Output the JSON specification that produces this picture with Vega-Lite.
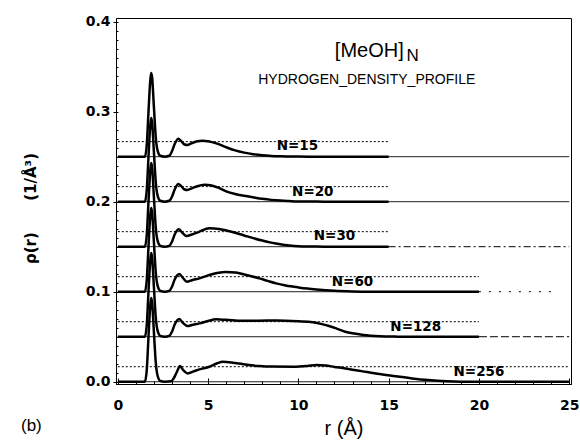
{
  "$schema": "https://vega.github.io/schema/vega-lite/v6.json",
  "width": 455,
  "height": 366,
  "autosize": "none",
  "padding": {"left": 116, "top": 18, "right": 9, "bottom": 58},
  "background": "white",
  "title": {"text": "(b)", "orient": "bottom", "anchor": "start", "frame": "group", "dx": -95, "dy": -24, "fontSize": 17, "fontWeight": "normal", "font": "Liberation Sans", "color": "black"},
  "datasets": {
    "curves": [
      {"N":"15","r":0,"v":0.25},{"N":"15","r":1.5,"v":0.25},{"N":"15","r":1.6,"v":0.262},{"N":"15","r":1.7,"v":0.30},{"N":"15","r":1.8,"v":0.335},{"N":"15","r":1.85,"v":0.343},{"N":"15","r":1.9,"v":0.338},{"N":"15","r":2.0,"v":0.305},{"N":"15","r":2.1,"v":0.272},{"N":"15","r":2.2,"v":0.257},{"N":"15","r":2.35,"v":0.251},{"N":"15","r":2.6,"v":0.25},{"N":"15","r":2.85,"v":0.251},{"N":"15","r":3.0,"v":0.256},{"N":"15","r":3.15,"v":0.264},{"N":"15","r":3.35,"v":0.27},{"N":"15","r":3.5,"v":0.2675},{"N":"15","r":3.7,"v":0.2635},{"N":"15","r":3.85,"v":0.263},{"N":"15","r":4.1,"v":0.265},{"N":"15","r":4.4,"v":0.2672},{"N":"15","r":4.7,"v":0.2678},{"N":"15","r":5.0,"v":0.2672},{"N":"15","r":5.5,"v":0.2645},{"N":"15","r":6.0,"v":0.2605},{"N":"15","r":6.5,"v":0.257},{"N":"15","r":7.0,"v":0.2545},{"N":"15","r":7.5,"v":0.2527},{"N":"15","r":8.0,"v":0.2515},{"N":"15","r":8.5,"v":0.2508},{"N":"15","r":9.0,"v":0.2504},{"N":"15","r":10,"v":0.2501},{"N":"15","r":11,"v":0.25},{"N":"15","r":15,"v":0.25},
      {"N":"20","r":0,"v":0.2},{"N":"20","r":1.5,"v":0.2},{"N":"20","r":1.6,"v":0.212},{"N":"20","r":1.7,"v":0.25},{"N":"20","r":1.8,"v":0.285},{"N":"20","r":1.85,"v":0.293},{"N":"20","r":1.9,"v":0.288},{"N":"20","r":2.0,"v":0.255},{"N":"20","r":2.1,"v":0.222},{"N":"20","r":2.2,"v":0.207},{"N":"20","r":2.35,"v":0.201},{"N":"20","r":2.6,"v":0.2},{"N":"20","r":2.85,"v":0.201},{"N":"20","r":3.0,"v":0.2055},{"N":"20","r":3.15,"v":0.2135},{"N":"20","r":3.35,"v":0.2197},{"N":"20","r":3.5,"v":0.2175},{"N":"20","r":3.7,"v":0.2135},{"N":"20","r":3.85,"v":0.213},{"N":"20","r":4.1,"v":0.2148},{"N":"20","r":4.4,"v":0.2172},{"N":"20","r":4.8,"v":0.2189},{"N":"20","r":5.2,"v":0.218},{"N":"20","r":5.6,"v":0.2153},{"N":"20","r":6.0,"v":0.2115},{"N":"20","r":6.5,"v":0.2085},{"N":"20","r":7.0,"v":0.2065},{"N":"20","r":7.5,"v":0.2048},{"N":"20","r":8.0,"v":0.2032},{"N":"20","r":8.5,"v":0.202},{"N":"20","r":9.0,"v":0.2012},{"N":"20","r":9.5,"v":0.2007},{"N":"20","r":10,"v":0.2003},{"N":"20","r":11,"v":0.2001},{"N":"20","r":12,"v":0.2},{"N":"20","r":15,"v":0.2},
      {"N":"30","r":0,"v":0.15},{"N":"30","r":1.5,"v":0.15},{"N":"30","r":1.6,"v":0.162},{"N":"30","r":1.7,"v":0.20},{"N":"30","r":1.8,"v":0.235},{"N":"30","r":1.85,"v":0.243},{"N":"30","r":1.9,"v":0.238},{"N":"30","r":2.0,"v":0.205},{"N":"30","r":2.1,"v":0.172},{"N":"30","r":2.2,"v":0.157},{"N":"30","r":2.35,"v":0.151},{"N":"30","r":2.6,"v":0.15},{"N":"30","r":2.85,"v":0.151},{"N":"30","r":3.0,"v":0.1555},{"N":"30","r":3.15,"v":0.1635},{"N":"30","r":3.38,"v":0.1693},{"N":"30","r":3.55,"v":0.166},{"N":"30","r":3.8,"v":0.1619},{"N":"30","r":4.1,"v":0.1635},{"N":"30","r":4.5,"v":0.1665},{"N":"30","r":5.07,"v":0.1704},{"N":"30","r":5.6,"v":0.1696},{"N":"30","r":6.0,"v":0.168},{"N":"30","r":6.5,"v":0.1655},{"N":"30","r":7.0,"v":0.1625},{"N":"30","r":7.5,"v":0.1595},{"N":"30","r":8.0,"v":0.1568},{"N":"30","r":8.5,"v":0.1545},{"N":"30","r":9.0,"v":0.1527},{"N":"30","r":9.5,"v":0.1514},{"N":"30","r":10,"v":0.1506},{"N":"30","r":11,"v":0.1501},{"N":"30","r":12,"v":0.15},{"N":"30","r":15,"v":0.15},
      {"N":"60","r":0,"v":0.1},{"N":"60","r":1.5,"v":0.1},{"N":"60","r":1.6,"v":0.112},{"N":"60","r":1.7,"v":0.15},{"N":"60","r":1.8,"v":0.185},{"N":"60","r":1.85,"v":0.193},{"N":"60","r":1.9,"v":0.188},{"N":"60","r":2.0,"v":0.155},{"N":"60","r":2.1,"v":0.122},{"N":"60","r":2.2,"v":0.107},{"N":"60","r":2.35,"v":0.101},{"N":"60","r":2.6,"v":0.1},{"N":"60","r":2.85,"v":0.101},{"N":"60","r":3.0,"v":0.1055},{"N":"60","r":3.15,"v":0.1135},{"N":"60","r":3.41,"v":0.1197},{"N":"60","r":3.6,"v":0.1155},{"N":"60","r":3.82,"v":0.1111},{"N":"60","r":4.1,"v":0.1128},{"N":"60","r":4.52,"v":0.1148},{"N":"60","r":5.07,"v":0.1185},{"N":"60","r":5.5,"v":0.1207},{"N":"60","r":6.0,"v":0.1219},{"N":"60","r":6.5,"v":0.1214},{"N":"60","r":6.9,"v":0.1197},{"N":"60","r":7.4,"v":0.1172},{"N":"60","r":7.84,"v":0.1148},{"N":"60","r":8.3,"v":0.112},{"N":"60","r":8.77,"v":0.1093},{"N":"60","r":9.3,"v":0.107},{"N":"60","r":10,"v":0.1048},{"N":"60","r":10.5,"v":0.1035},{"N":"60","r":11,"v":0.1025},{"N":"60","r":12,"v":0.101},{"N":"60","r":13,"v":0.1003},{"N":"60","r":14,"v":0.1},{"N":"60","r":20,"v":0.1},
      {"N":"128","r":0,"v":0.05},{"N":"128","r":1.5,"v":0.05},{"N":"128","r":1.6,"v":0.062},{"N":"128","r":1.7,"v":0.10},{"N":"128","r":1.8,"v":0.135},{"N":"128","r":1.85,"v":0.143},{"N":"128","r":1.9,"v":0.138},{"N":"128","r":2.0,"v":0.105},{"N":"128","r":2.1,"v":0.072},{"N":"128","r":2.2,"v":0.057},{"N":"128","r":2.35,"v":0.051},{"N":"128","r":2.6,"v":0.05},{"N":"128","r":2.85,"v":0.051},{"N":"128","r":3.0,"v":0.0555},{"N":"128","r":3.15,"v":0.0635},{"N":"128","r":3.41,"v":0.0697},{"N":"128","r":3.6,"v":0.0655},{"N":"128","r":3.87,"v":0.0619},{"N":"128","r":4.1,"v":0.063},{"N":"128","r":4.52,"v":0.0648},{"N":"128","r":5.0,"v":0.0675},{"N":"128","r":5.44,"v":0.0693},{"N":"128","r":6.0,"v":0.0688},{"N":"128","r":6.9,"v":0.0678},{"N":"128","r":7.8,"v":0.0678},{"N":"128","r":8.8,"v":0.068},{"N":"128","r":10,"v":0.0672},{"N":"128","r":10.8,"v":0.0662},{"N":"128","r":11.3,"v":0.064},{"N":"128","r":11.7,"v":0.0619},{"N":"128","r":12.2,"v":0.0585},{"N":"128","r":12.6,"v":0.0556},{"N":"128","r":13.1,"v":0.0535},{"N":"128","r":13.6,"v":0.0519},{"N":"128","r":14,"v":0.0511},{"N":"128","r":14.5,"v":0.0505},{"N":"128","r":15.5,"v":0.0501},{"N":"128","r":16,"v":0.05},{"N":"128","r":20,"v":0.05},
      {"N":"256","r":0,"v":0},{"N":"256","r":1.5,"v":0},{"N":"256","r":1.6,"v":0.012},{"N":"256","r":1.7,"v":0.05},{"N":"256","r":1.8,"v":0.085},{"N":"256","r":1.85,"v":0.093},{"N":"256","r":1.9,"v":0.088},{"N":"256","r":2.0,"v":0.055},{"N":"256","r":2.1,"v":0.022},{"N":"256","r":2.2,"v":0.007},{"N":"256","r":2.35,"v":0.001},{"N":"256","r":2.6,"v":0},{"N":"256","r":2.95,"v":0.0005},{"N":"256","r":3.1,"v":0.004},{"N":"256","r":3.25,"v":0.010},{"N":"256","r":3.45,"v":0.0174},{"N":"256","r":3.6,"v":0.0135},{"N":"256","r":3.87,"v":0.0093},{"N":"256","r":4.2,"v":0.0115},{"N":"256","r":4.52,"v":0.0138},{"N":"256","r":5.07,"v":0.0167},{"N":"256","r":5.5,"v":0.0205},{"N":"256","r":5.81,"v":0.0222},{"N":"256","r":6.3,"v":0.0215},{"N":"256","r":6.9,"v":0.0197},{"N":"256","r":7.4,"v":0.0182},{"N":"256","r":7.84,"v":0.0174},{"N":"256","r":8.5,"v":0.0168},{"N":"256","r":9.7,"v":0.0167},{"N":"256","r":10.5,"v":0.0175},{"N":"256","r":11,"v":0.0185},{"N":"256","r":11.5,"v":0.018},{"N":"256","r":12,"v":0.0165},{"N":"256","r":12.6,"v":0.0148},{"N":"256","r":13.5,"v":0.0118},{"N":"256","r":14.5,"v":0.0085},{"N":"256","r":15.4,"v":0.006},{"N":"256","r":16.3,"v":0.0037},{"N":"256","r":17.2,"v":0.0019},{"N":"256","r":18.2,"v":0.0006},{"N":"256","r":19,"v":0.0001},{"N":"256","r":20,"v":0},{"N":"256","r":25,"v":0}
    ],
    "guides": [
      {"g":"b15","kind":"solid","r":0,"v":0.25},{"g":"b15","kind":"solid","r":25,"v":0.25},
      {"g":"d15","kind":"dotted","r":0,"v":0.2667},{"g":"d15","kind":"dotted","r":15,"v":0.2667},
      {"g":"b20","kind":"solid","r":0,"v":0.2},{"g":"b20","kind":"solid","r":25,"v":0.2},
      {"g":"d20","kind":"dotted","r":0,"v":0.2167},{"g":"d20","kind":"dotted","r":15,"v":0.2167},
      {"g":"b30","kind":"solid","r":0,"v":0.15},{"g":"b30","kind":"solid","r":15,"v":0.15},
      {"g":"e30","kind":"dashdot","r":15,"v":0.15},{"g":"e30","kind":"dashdot","r":25,"v":0.15},
      {"g":"d30","kind":"dotted","r":0,"v":0.1667},{"g":"d30","kind":"dotted","r":15,"v":0.1667},
      {"g":"b60","kind":"solid","r":0,"v":0.1},{"g":"b60","kind":"solid","r":20,"v":0.1},
      {"g":"e60","kind":"sparse","r":20,"v":0.1},{"g":"e60","kind":"sparse","r":24,"v":0.1},
      {"g":"d60","kind":"dotted","r":0,"v":0.1167},{"g":"d60","kind":"dotted","r":20,"v":0.1167},
      {"g":"b128","kind":"solid","r":0,"v":0.05},{"g":"b128","kind":"solid","r":20,"v":0.05},
      {"g":"e128","kind":"dashed","r":20,"v":0.05},{"g":"e128","kind":"dashed","r":25,"v":0.05},
      {"g":"d128","kind":"dotted","r":0,"v":0.0667},{"g":"d128","kind":"dotted","r":20,"v":0.0667},
      {"g":"b256","kind":"solid","r":0,"v":0},{"g":"b256","kind":"solid","r":25,"v":0},
      {"g":"d256","kind":"dotted","r":0,"v":0.0167},{"g":"d256","kind":"dotted","r":25,"v":0.0167}
    ],
    "labels": [
      {"label":"N=15","r":9.95,"v":0.2619},
      {"label":"N=20","r":10.8,"v":0.2104},
      {"label":"N=30","r":12.0,"v":0.1619},
      {"label":"N=60","r":13.0,"v":0.111},
      {"label":"N=128","r":16.5,"v":0.0604},
      {"label":"N=256","r":20.0,"v":0.011}
    ],
    "notes": [
      {"label":"[MeOH]","r":13.93,"v":0.3674,"size":20},
      {"label":"N","r":16.33,"v":0.3619,"size":17},
      {"label":"HYDROGEN_DENSITY_PROFILE","r":13.79,"v":0.3347,"size":14}
    ]
  },
  "resolve": {"axis": {"x": "independent", "y": "independent"}},
  "layer": [
    {
      "data": {"name": "guides"},
      "mark": {"type": "line", "strokeWidth": 1, "color": "black"},
      "encoding": {
        "x": {"field": "r", "type": "quantitative", "scale": {"domain": [-0.1, 25.1], "nice": false, "zero": false},
          "axis": {"orient": "bottom", "values": [0, 5, 10, 15, 20, 25], "tickSize": -6, "labelPadding": 20, "labelBaseline": "top", "labelFont": "DejaVu Sans", "labelFontWeight": "bold", "labelFontSize": 14, "title": "r (Å)", "titleFont": "Liberation Sans", "titleFontSize": 20, "titleFontWeight": "normal", "titleY": 44, "titleBaseline": "middle"}},
        "y": {"field": "v", "type": "quantitative", "scale": {"domain": [-0.0025, 0.404], "nice": false, "zero": false},
          "axis": {"orient": "left", "values": [0, 0.1, 0.2, 0.3, 0.4], "format": ".1f", "tickSize": 3, "labelPadding": 3, "labelFont": "DejaVu Sans", "labelFontWeight": "bold", "labelFontSize": 14, "title": "ρ(r)\u00a0\u00a0\u00a0\u00a0\u00a0\u00a0(1/Å³)", "titleFont": "DejaVu Sans", "titleFontSize": 15, "titleFontWeight": "bold", "titleX": -86, "titleY": 190, "titleAngle": -90, "titleAlign": "center", "titleBaseline": "middle"}},
        "detail": {"field": "g"},
        "strokeDash": {"field": "kind", "type": "nominal", "legend": null,
          "scale": {"domain": ["solid", "dotted", "dashdot", "sparse", "dashed"], "range": [[1, 0], [2, 2], [7, 3, 2, 3], [2, 8], [8, 3]]}}
      }
    },
    {
      "data": {"name": "curves"},
      "mark": {"type": "line", "strokeWidth": 2.5, "color": "black", "interpolate": "monotone"},
      "encoding": {
        "x": {"field": "r", "type": "quantitative",
          "axis": {"orient": "bottom", "values": [0,1,2,3,4,5,6,7,8,9,10,11,12,13,14,15,16,17,18,19,20,21,22,23,24,25], "tickSize": -3, "labels": false, "domain": false, "title": null}},
        "y": {"field": "v", "type": "quantitative",
          "axis": {"orient": "left", "values": [0,0.01,0.02,0.03,0.04,0.05,0.06,0.07,0.08,0.09,0.1,0.11,0.12,0.13,0.14,0.15,0.16,0.17,0.18,0.19,0.2,0.21,0.22,0.23,0.24,0.25,0.26,0.27,0.28,0.29,0.3,0.31,0.32,0.33,0.34,0.35,0.36,0.37,0.38,0.39,0.4], "tickSize": -2, "labels": false, "domain": false, "title": null}},
        "detail": {"field": "N"}
      }
    },
    {
      "data": {"name": "labels"},
      "mark": {"type": "text", "font": "DejaVu Sans", "fontWeight": "bold", "fontSize": 13.5, "align": "center", "baseline": "middle", "color": "black"},
      "encoding": {
        "x": {"field": "r", "type": "quantitative", "axis": null},
        "y": {"field": "v", "type": "quantitative", "axis": null},
        "text": {"field": "label"}
      }
    },
    {
      "data": {"name": "notes"},
      "mark": {"type": "text", "font": "Liberation Sans", "align": "center", "baseline": "middle", "color": "black"},
      "encoding": {
        "x": {"field": "r", "type": "quantitative", "axis": null},
        "y": {"field": "v", "type": "quantitative", "axis": null},
        "text": {"field": "label"},
        "size": {"field": "size", "type": "quantitative", "scale": null}
      }
    }
  ],
  "config": {
    "view": {"stroke": "black", "strokeWidth": 1},
    "axis": {"domainColor": "black", "tickColor": "black", "labelColor": "black", "titleColor": "black", "grid": false, "domainWidth": 1, "tickWidth": 1}
  }
}
